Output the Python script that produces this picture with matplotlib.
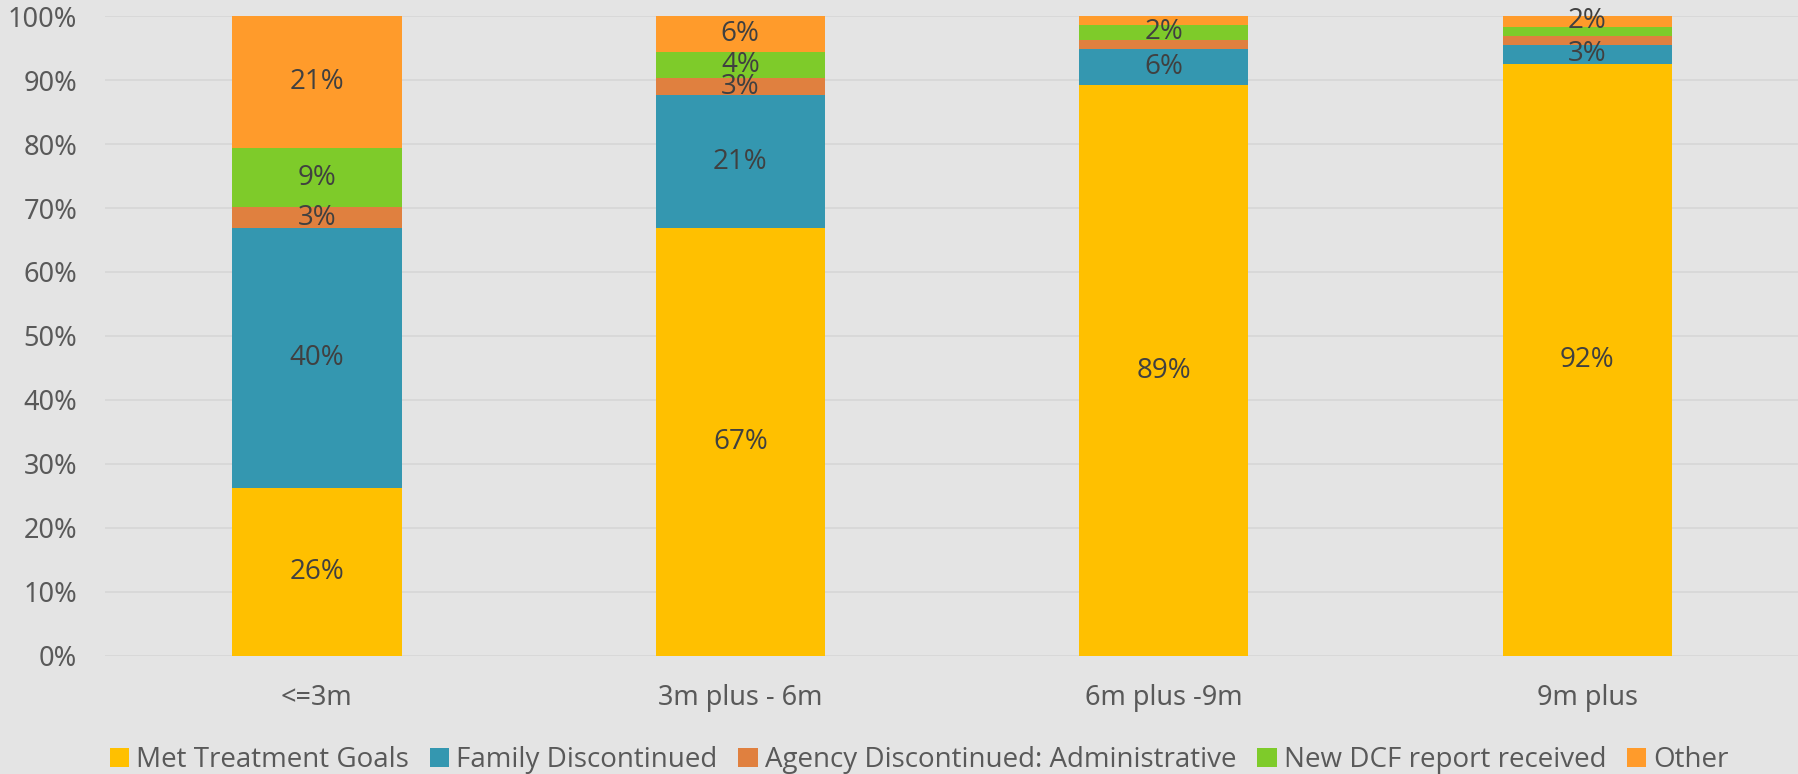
import matplotlib.pyplot as plt
import numpy as np

# Share of closed cases by length of service (percent)
categories = ['<=3m', '3m plus - 6m', '6m plus -9m', '9m plus']
met_goals = [26.3, 66.8, 89.2, 92.5]
family_disc = [40.5, 20.8, 5.7, 3.0]
agency_disc = [3.3, 2.7, 1.4, 1.4]
new_dcf = [9.3, 4.1, 2.3, 1.4]
other = [20.6, 5.6, 1.4, 1.7]

series = [
    ('Met Treatment Goals', met_goals, '#FFC000'),
    ('Family Discontinued', family_disc, '#3497B0'),
    ('Agency Discontinued: Administrative', agency_disc, '#E0803F'),
    ('New DCF report received', new_dcf, '#7ECB2A'),
    ('Other', other, '#FF9B2B'),
]

tick_font = ['Noto Sans', 'DejaVu Sans']
label_font = ['Open Sans', 'DejaVu Sans']

bg = '#E4E4E4'
fig = plt.figure(figsize=(17.99, 7.74), dpi=100, facecolor=bg)
ax = fig.add_axes([0.0584, 0.1525, 0.9416, 0.8268])
ax.set_facecolor(bg)

x = np.arange(len(categories))
bottom = np.zeros(len(categories))
for name, vals, color in series:
    vals = np.array(vals)
    ax.bar(x, vals, 0.4, bottom=bottom, color=color, label=name, zorder=3)
    for xi, b, v in zip(x, bottom, vals):
        if v >= 1.5:
            ax.text(xi, b + v / 2, f'{v:.0f}%', ha='center', va='center',
                    fontsize=20, color='#404040', family=label_font, zorder=4)
    bottom += vals

ax.set_xlim(-0.5, 3.5)
ax.set_ylim(0, 100)
ax.set_yticks(np.arange(0, 101, 10))
ax.set_yticklabels([f'{t}%' for t in range(0, 101, 10)], family=tick_font)
ax.set_xticks(x)
ax.set_xticklabels(categories, family=tick_font)
ax.tick_params(axis='both', length=0, labelsize=19.5, labelcolor='#595959')
ax.tick_params(axis='x', pad=20)
ax.tick_params(axis='y', pad=20)

ax.grid(axis='y', color='#D6D6D6', linewidth=1.2, zorder=0)
for s in ax.spines.values():
    s.set_visible(False)

leg = fig.legend(loc='center', bbox_to_anchor=(0.511, 0.018), ncol=5, frameon=False,
                 handlelength=0.7, handleheight=0.7, handletextpad=0.25,
                 columnspacing=0.75, prop={'family': label_font, 'size': 20})
for t in leg.get_texts():
    t.set_color('#595959')

fig.savefig('out.png', dpi=100, facecolor=bg)
